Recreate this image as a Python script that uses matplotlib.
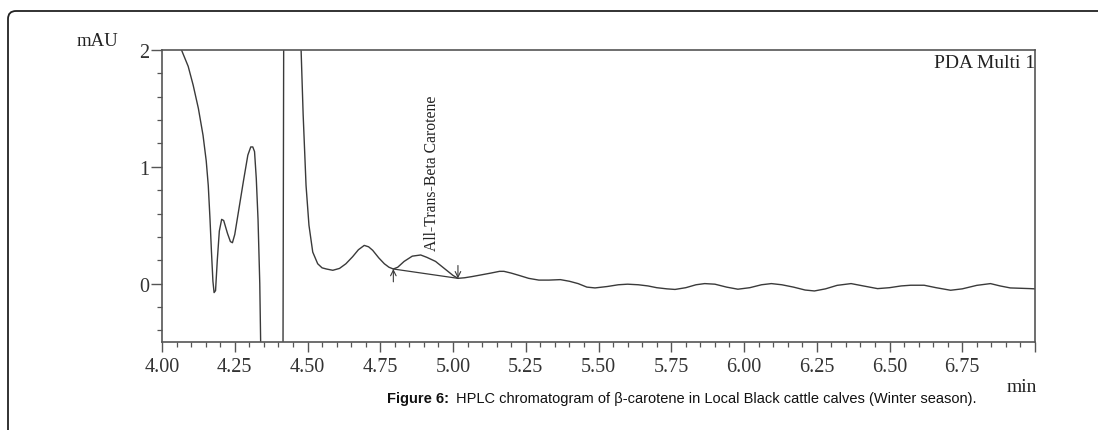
import numpy as np
import matplotlib
matplotlib.use("Agg")
import matplotlib.pyplot as plt
from matplotlib.patches import FancyBboxPatch
from matplotlib.ticker import MultipleLocator, FixedLocator, FuncFormatter

# Chromatogram (retention time in min, absorbance in mAU)
zeit = [4.00, 4.03, 4.067, 4.09, 4.107, 4.125, 4.141, 4.152, 4.159, 4.165,
        4.170, 4.175, 4.179, 4.184, 4.19, 4.197, 4.205, 4.212, 4.225, 4.235,
        4.242, 4.25, 4.265, 4.28, 4.295, 4.305, 4.312, 4.318, 4.324, 4.330,
        4.336, 4.339, 4.345, 4.415, 4.419, 4.47, 4.478, 4.485, 4.495, 4.505,
        4.518, 4.535, 4.55, 4.565, 4.587, 4.61, 4.632, 4.655, 4.675, 4.695,
        4.71, 4.724, 4.745, 4.764, 4.78, 4.795, 4.81, 4.832, 4.86, 4.889,
        4.91, 4.94, 4.97, 5.00, 5.017, 5.04, 5.065, 5.089, 5.13, 5.16,
        5.175, 5.20, 5.226, 5.26, 5.295, 5.33, 5.369, 5.40, 5.43, 5.46,
        5.488, 5.53, 5.568, 5.60, 5.637, 5.67, 5.70, 5.735, 5.763, 5.80,
        5.835, 5.865, 5.90, 5.94, 5.979, 6.02, 6.06, 6.094, 6.13, 6.17,
        6.21, 6.242, 6.28, 6.32, 6.368, 6.41, 6.459, 6.50, 6.54, 6.573,
        6.619, 6.66, 6.71, 6.75, 6.80, 6.847, 6.88, 6.915, 6.95, 6.984, 7.00]
mau = [2.6, 2.3, 2.0, 1.86, 1.70, 1.50, 1.27, 1.05, 0.84, 0.55,
       0.27, 0.02, -0.077, -0.06, 0.20, 0.45, 0.55, 0.54, 0.43, 0.36,
       0.35, 0.42, 0.65, 0.88, 1.10, 1.17, 1.17, 1.13, 0.90, 0.55,
       0.0, -0.5, -1.5, -1.5, 3.0, 3.0, 2.0, 1.45, 0.84, 0.50,
       0.27, 0.17, 0.135, 0.125, 0.114, 0.13, 0.17, 0.23, 0.29, 0.327,
       0.315, 0.285, 0.22, 0.17, 0.14, 0.125, 0.14, 0.19, 0.235, 0.245,
       0.225, 0.19, 0.13, 0.07, 0.045, 0.05, 0.06, 0.071, 0.09, 0.105,
       0.105, 0.09, 0.071, 0.045, 0.03, 0.03, 0.034, 0.02, 0.0, -0.03,
       -0.037, -0.025, -0.01, -0.005, -0.01, -0.02, -0.035, -0.045, -0.05, -0.035,
       -0.01, 0.0, -0.005, -0.03, -0.048, -0.035, -0.01, 0.0, -0.01, -0.03,
       -0.055, -0.063, -0.045, -0.015, 0.0, -0.02, -0.043, -0.035, -0.02, -0.014,
       -0.014, -0.035, -0.057, -0.045, -0.015, 0.0, -0.02, -0.037, -0.04, -0.043, -0.045]

# Peak-Integration (Basislinie)
peak_start = (4.795, 0.125)
peak_end = (5.017, 0.045)
peak_name = "All-Trans-Beta Carotene"
peak_label_pos = (4.928, 0.29)

x_ticks = [4.00, 4.25, 4.50, 4.75, 5.00, 5.25, 5.50, 5.75, 6.00, 6.25, 6.50, 6.75, 7.00]
y_ticks = [0, 1, 2]

SERIF = ["Liberation Serif", "DejaVu Serif"]
SANS = ["Liberation Sans", "DejaVu Sans"]

fig = plt.figure(figsize=(10.98, 4.31), dpi=100)
ax = fig.add_axes([162 / 1098, 1 - 343 / 431, (1035 - 162) / 1098, (343 - 51) / 431])

# Kurve
ax.plot(zeit, mau, color="#3a3a3a", lw=1.0)

# Basislinie und Pfeile
ax.plot([peak_start[0], peak_end[0]], [peak_start[1], peak_end[1]], color="#3a3a3a", lw=0.9)
ax.annotate("", xy=peak_start, xytext=(peak_start[0], peak_start[1] - 0.11),
            arrowprops=dict(arrowstyle="->", color="#3a3a3a", lw=0.8, shrinkA=0, shrinkB=0))
ax.annotate("", xy=peak_end, xytext=(peak_end[0], peak_end[1] + 0.11),
            arrowprops=dict(arrowstyle="->", color="#3a3a3a", lw=0.8, shrinkA=0, shrinkB=0))
ax.text(peak_label_pos[0], peak_label_pos[1], peak_name, rotation=90, ha="center", va="bottom",
        family=SERIF, fontsize=11.3, color="#222222")

ax.text(1.0, 0.987, "PDA Multi 1", transform=ax.transAxes, ha="right", va="top",
        family=SERIF, fontsize=14, color="#222222")

# Achsen
ax.set_xlim(4.0, 7.0)
ax.set_ylim(-0.5, 2.0)
ax.xaxis.set_major_locator(FixedLocator(x_ticks))
ax.xaxis.set_minor_locator(MultipleLocator(0.05))
ax.xaxis.set_major_formatter(FuncFormatter(lambda v, p: "" if v > 6.9 else "%.2f" % v))
ax.yaxis.set_major_locator(FixedLocator(y_ticks))
ax.yaxis.set_minor_locator(MultipleLocator(0.2))
ax.yaxis.set_major_formatter(FuncFormatter(lambda v, p: "%d" % v))

for s in ax.spines.values():
    s.set_color("#555555")
    s.set_linewidth(1.2)
ax.tick_params(axis="both", which="major", direction="out", color="#555555", width=1.0,
               labelsize=14.5, labelcolor="#333333")
ax.tick_params(axis="x", which="major", length=7, pad=3.5)
ax.tick_params(axis="y", which="major", length=8, pad=1)
ax.tick_params(axis="both", which="minor", direction="out", length=3.5, width=0.9, color="#555555")
for lab in ax.get_xticklabels() + ax.get_yticklabels():
    lab.set_family(SERIF)

fig.text(97 / 1098, 1 - 41 / 431, "mAU", ha="center", va="center", family=SERIF,
         fontsize=13.5, color="#222222")
fig.text(1022 / 1098, 1 - 388 / 431, "min", ha="center", va="center", family=SERIF,
         fontsize=14, color="#222222")

# Bildunterschrift
t1 = fig.text(387 / 1098, 1 - 399 / 431, "Figure 6:", ha="left", va="center",
              family=SANS, fontsize=10.5, fontweight="bold", color="#111111")
ax.annotate("HPLC chromatogram of \u03b2-carotene in Local Black cattle calves (Winter season).",
            xy=(1, 0.5), xycoords=t1, xytext=(5, 0), textcoords="offset points",
            ha="left", va="center", family=SANS, fontsize=10.5, color="#111111",
            annotation_clip=False)

# Rahmen
rahmen = FancyBboxPatch((0.08, -1.0), 12.0, 4.31 - 0.12 + 1.0,
                        boxstyle="round,pad=0,rounding_size=0.08",
                        transform=fig.dpi_scale_trans, fill=False,
                        edgecolor="#222222", lw=1.3)
fig.patches.append(rahmen)

fig.savefig("out.png", dpi=100)
